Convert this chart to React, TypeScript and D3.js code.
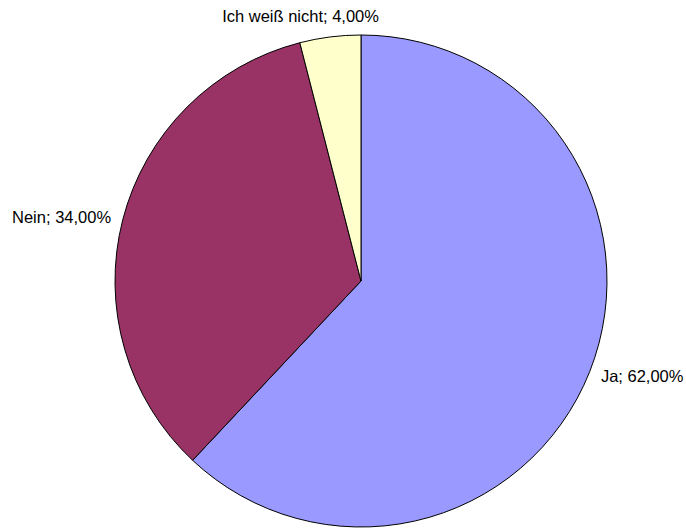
import React from "react";
import * as d3 from "d3";

const categories = ["Ja", "Nein", "Ich weiß nicht"];
const values = [62, 34, 4];
const labels = ["Ja; 62,00%", "Nein; 34,00%", "Ich weiß nicht; 4,00%"];
const colors = ["#9999FF", "#993366", "#FFFFCC"];

const W = 686;
const H = 528;
const cx = 361;
const cy = 281;
const R = 246;

export default function App() {
  const pie = d3
    .pie<number>()
    .sort(null)
    .value((d) => d)
    .startAngle(0)
    .endAngle(2 * Math.PI);
  const arcs = pie(values);
  const arc = d3.arc<d3.PieArcDatum<number>>().innerRadius(0).outerRadius(R);

  const labelPos = (a: d3.PieArcDatum<number>) => {
    const mid = (a.startAngle + a.endAngle) / 2;
    const s = Math.sin(mid);
    const c = Math.cos(mid);
    if (Math.abs(s) < 0.5) {
      const rr = R + 21;
      return { x: rr * s - 27, y: -rr * c, anchor: "middle" };
    }
    const rr = R + 12;
    return { x: rr * s, y: -rr * c, anchor: s > 0 ? "start" : "end" };
  };

  return (
    <svg
      width={W}
      height={H}
      style={{ position: "absolute", left: 0, top: 0, background: "#fff" }}
    >
      <g transform={`translate(${cx},${cy})`}>
        {arcs.map((a, i) => (
          <path
            key={categories[i]}
            d={arc(a) || ""}
            fill={colors[i]}
            stroke="#000"
            strokeWidth={1}
            strokeLinejoin="round"
          />
        ))}
        {arcs.map((a, i) => {
          const p = labelPos(a);
          return (
            <text
              key={"l" + categories[i]}
              x={p.x}
              y={p.y}
              textAnchor={p.anchor as any}
              dominantBaseline="central"
              fontFamily="'Liberation Sans', Arial, sans-serif"
              fontSize={16.5}
              fill="#000"
            >
              {labels[i]}
            </text>
          );
        })}
      </g>
    </svg>
  );
}
